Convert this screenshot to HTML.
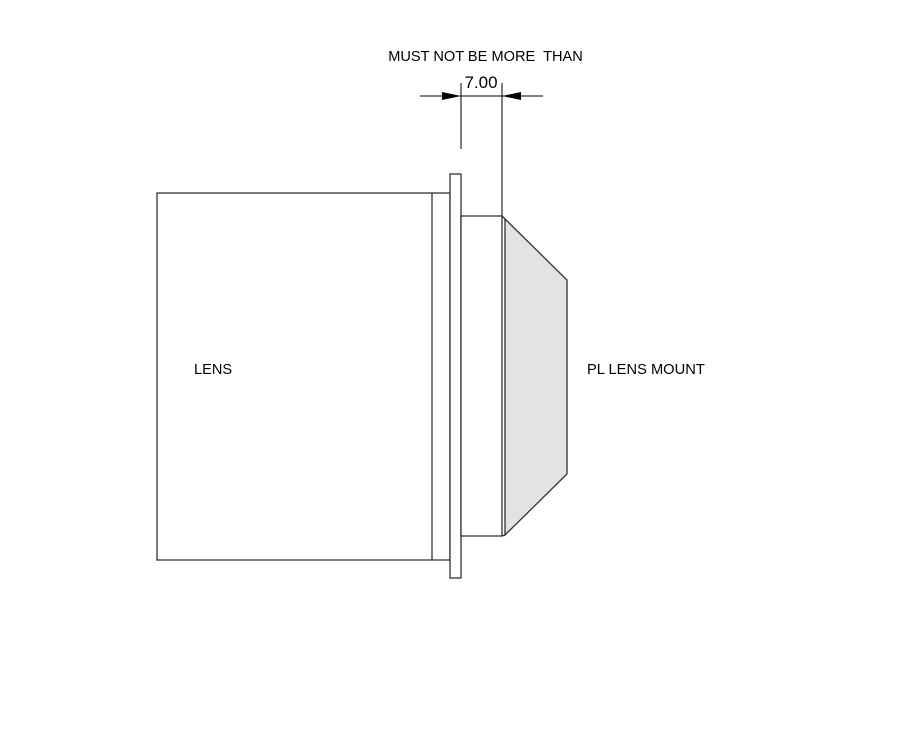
<!DOCTYPE html>
<html><head><meta charset="utf-8"><style>
html,body{margin:0;padding:0;background:#fff;}
svg{display:block;}
text{font-family:"Liberation Sans",sans-serif;fill:#000;}
</style></head><body>
<svg width="911" height="750" viewBox="0 0 911 750" xmlns="http://www.w3.org/2000/svg">
<g fill="none" stroke="#333" stroke-width="1.3">
<rect x="157" y="193" width="293" height="367" fill="#fff"/>
<line x1="432" y1="193" x2="432" y2="560"/>
<rect x="450" y="174" width="11" height="404" fill="#fff"/>
<rect x="461" y="216" width="41" height="320" fill="#fff"/>
<polygon points="505,219 567,280 567,474 505,535" fill="#e3e3e3"/>
<line x1="502" y1="216" x2="505" y2="219"/>
<line x1="502" y1="536" x2="505" y2="535"/>
</g>
<g stroke="#000" stroke-width="1">
<line x1="461" y1="83" x2="461" y2="149"/>
<line x1="502" y1="83" x2="502" y2="216"/>
<line x1="420" y1="96" x2="543" y2="96"/>
</g>
<polygon points="442,92 461,96 442,100" fill="#000"/>
<polygon points="521,92 502,96 521,100" fill="#000"/>
<text x="485.5" y="61" font-size="14.6" text-anchor="middle">MUST NOT BE MORE&#160; THAN</text>
<text x="481" y="88" font-size="17" text-anchor="middle">7.00</text>
<text x="194" y="374" font-size="14.6">LENS</text>
<text x="587" y="374" font-size="14.7">PL LENS MOUNT</text>
</svg>
</body></html>
